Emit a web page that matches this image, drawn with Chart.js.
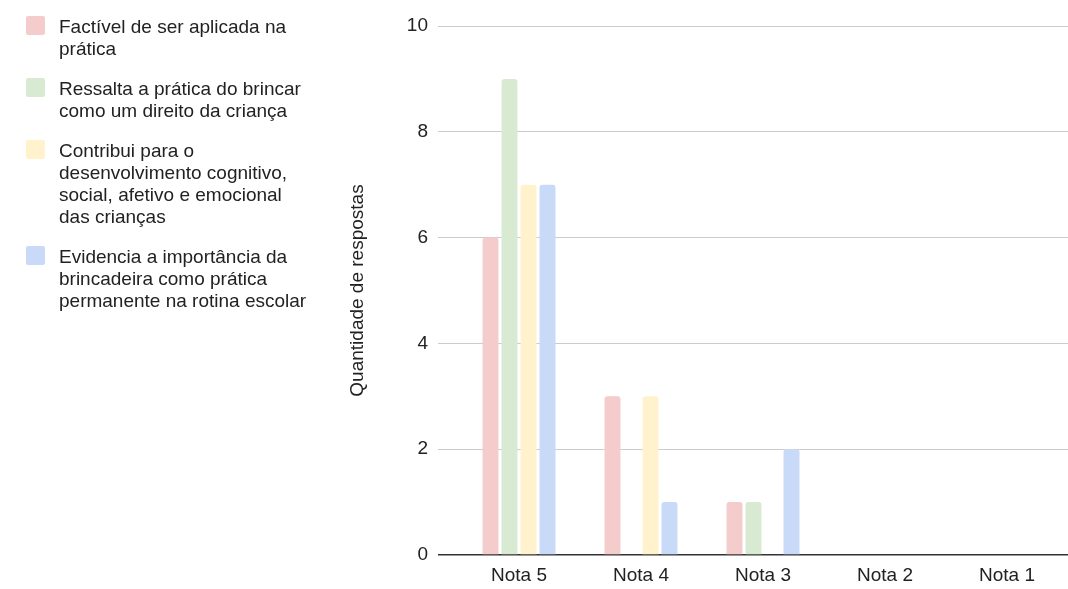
<!DOCTYPE html>
<html>
<head>
<meta charset="utf-8">
<script src="https://cdn.jsdelivr.net/npm/chart.js@4"></script>
<style>
  html, body { margin: 0; padding: 0; background: #fff; overflow: hidden; }
  #wrap { position: relative; width: 1068px; height: 589px; }
  #chart { position: absolute; left: 0; top: 0; }
  .legend { position: absolute; left: 26px; top: 16px; font-family: "Liberation Sans", Arial, sans-serif; font-size: 19px; line-height: 22px; color: #222; }
  .legend-item { display: flex; align-items: flex-start; margin-bottom: 18px; }
  .legend-box { width: 19px; height: 19px; border-radius: 2px; flex: none; margin-right: 14px; }
  .legend-text { width: 255px; }
</style>
</head>
<body>
<div id="wrap">
  <canvas id="chart" width="1068" height="589"></canvas>
  <div class="legend" id="legend"></div>
</div>
<script>
const categories = ['Nota 5', 'Nota 4', 'Nota 3', 'Nota 2', 'Nota 1'];
const seriesNames = [
  'Factível de ser aplicada na prática',
  'Ressalta a prática do brincar como um direito da criança',
  'Contribui para o desenvolvimento cognitivo, social, afetivo e emocional das crianças',
  'Evidencia a importância da brincadeira como prática permanente na rotina escolar'
];
const factivel = [6, 3, 1, 0, 0];
const ressalta = [9, 0, 1, 0, 0];
const contribui = [7, 3, 0, 0, 0];
const evidencia = [7, 1, 2, 0, 0];
const colors = ['#f4cccc', '#d9ead3', '#fff2cc', '#c9daf8'];
const yTicks = [0, 2, 4, 6, 8, 10];

const seriesValues = [factivel, ressalta, contribui, evidencia];
const font = { family: '"Liberation Sans", Arial, sans-serif', size: 19 };

// html legend, text wraps like the original
const legendEl = document.getElementById('legend');
seriesNames.forEach((name, i) => {
  const item = document.createElement('div');
  item.className = 'legend-item';
  item.innerHTML = '<div class="legend-box" style="background:' + colors[i] + '"></div><div class="legend-text"></div>';
  item.querySelector('.legend-text').textContent = name;
  legendEl.appendChild(item);
});

new Chart(document.getElementById('chart'), {
  type: 'bar',
  data: {
    labels: categories,
    datasets: seriesValues.map((vals, i) => ({
      label: seriesNames[i],
      data: vals,
      backgroundColor: colors[i],
      borderWidth: 0,
      borderRadius: 3,
      barPercentage: 0.84,
      categoryPercentage: 0.623
    }))
  },
  options: {
    responsive: false,
    animation: false,
    layout: { padding: { left: 342, top: 26, right: 0, bottom: 0 } },
    plugins: { legend: { display: false }, tooltip: { enabled: false } },
    scales: {
      x: {
        grid: { display: false, drawTicks: false },
        border: { display: false },
        afterFit: scale => { scale.height = 34; },
        ticks: { font: font, color: '#222', padding: 9 }
      },
      y: {
        min: 0,
        max: 10,
        afterBuildTicks: scale => { scale.ticks = yTicks.map(v => ({ value: v })); },
        afterFit: scale => { scale.width = 116; },
        border: { display: false },
        grid: {
          tickLength: 20,
          color: ctx => ctx.tick && ctx.tick.value === 0 ? '#333' : '#ccc',
          lineWidth: ctx => ctx.tick && ctx.tick.value === 0 ? 1.5 : 1
        },
        ticks: { font: font, color: '#222', padding: 10 },
        title: { display: true, text: 'Quantidade de respostas', font: font, color: '#222' }
      }
    }
  }
});
</script>
</body>
</html>
